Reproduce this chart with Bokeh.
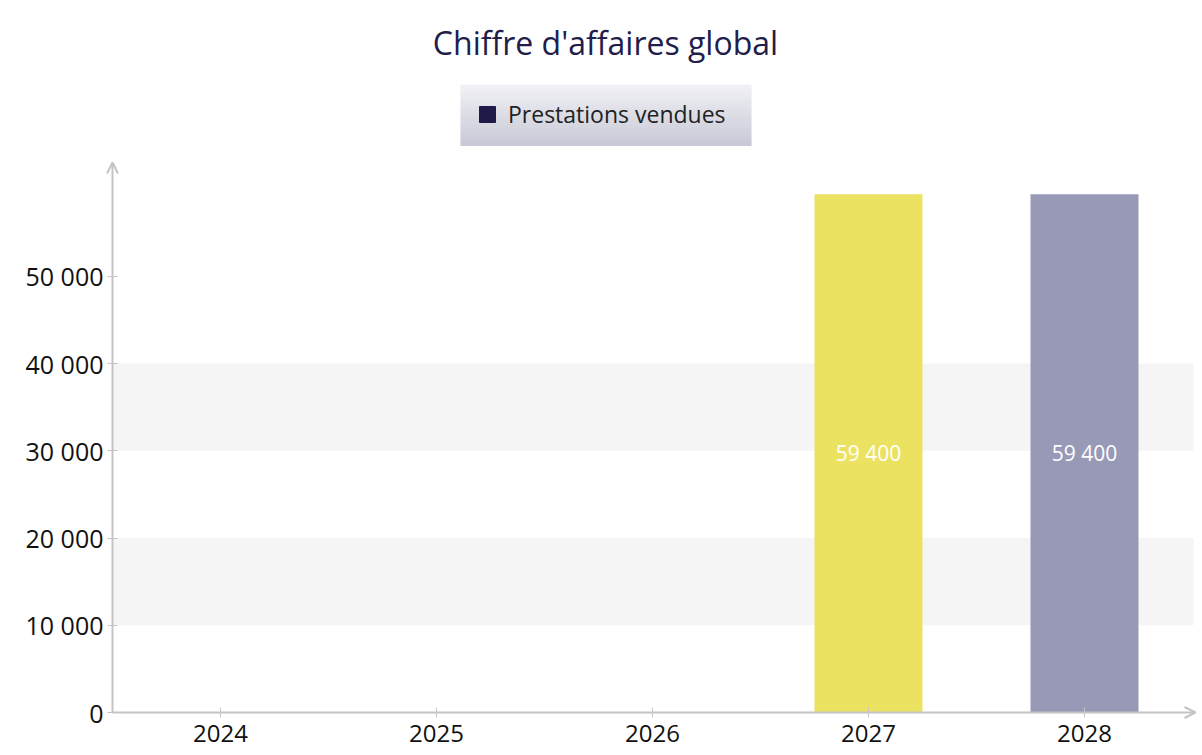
from bokeh.plotting import figure
from bokeh.models import (Range1d, FixedTicker, BoxAnnotation, Legend, LegendItem,
                          Arrow, OpenHead, ColumnDataSource, Label)
from bokeh.core.properties import value
from bokeh.embed import file_html
from bokeh.resources import INLINE

title_text = "Chiffre d'affaires global"
series_name = "Prestations vendues"
years = ["2024", "2025", "2026", "2027", "2028"]
values = [0, 0, 0, 59400, 59400]
bar_colors = ["#ECE262", "#ECE262", "#ECE262", "#ECE262", "#9899B6"]
y_ticks = [0, 10000, 20000, 30000, 40000, 50000]
y_tick_labels = ["0", "10 000", "20 000", "30 000", "40 000", "50 000"]
band_starts = [10000, 30000]
band_size = 10000

FONT = "Open Sans"
AXIS_COLOR = "#c4c4c4"
W, H = 1200, 755

# pixel layout of the plotting area (canvas pixels, top-left origin)
X0_PX = 112          # x = 0.5 (left edge of first category)
CAT_PX = 216         # width of one category
Y0_PX = 712          # y = 0
PX_PER_UNIT_Y = 87.25 / 10000

x_start = 0.5 - X0_PX / CAT_PX
x_end = x_start + W / CAT_PX
y_start = -(H - Y0_PX) / PX_PER_UNIT_Y
y_end = Y0_PX / PX_PER_UNIT_Y


def px_x(px):
    return x_start + px / CAT_PX


def px_y(py):
    return (Y0_PX - py) / PX_PER_UNIT_Y


xpos = list(range(1, len(years) + 1))
X_TIP = px_x(1195)
Y_TIP = px_y(162)

p = figure(width=W, height=H, output_backend="svg", toolbar_location=None,
           x_range=Range1d(x_start, x_end), y_range=Range1d(y_start, y_end),
           min_border=0)
p.outline_line_color = None
p.background_fill_color = "white"
p.border_fill_color = "white"
p.xgrid.visible = False
p.ygrid.visible = False

# title
p.add_layout(Label(x=px_x(605), y=px_y(42), text=title_text,
                   text_align="center", text_baseline="alphabetic", text_font=FONT,
                   text_font_size="32px", text_color="#221d4b"))

# alternating bands
for b in band_starts:
    p.add_layout(BoxAnnotation(bottom=b, top=b + band_size, left=0.5, right=px_x(1193),
                               fill_color="#f5f5f5", fill_alpha=1, line_color=None,
                               level="underlay"))

src = ColumnDataSource(dict(x=xpos, top=values, color=bar_colors,
                            mid=[v / 2 for v in values],
                            label=[f"{v:,}".replace(",", " ") if v else "" for v in values]))
p.vbar(x="x", top="top", width=0.5, bottom=0, fill_color="color", line_color=None, source=src)
p.text(x="x", y="mid", text="label", source=src, text_align="center", text_baseline="middle",
       text_color="white", text_font=value(FONT), text_font_size="21px")

# legend box background (vertical gradient)
LEG_L, LEG_R, LEG_T, LEG_B = 460, 751, 84, 145
n_strips = 30
c_top = (0xF1, 0xF1, 0xF5)
c_bot = (0xC8, 0xC8, 0xD7)
for i in range(n_strips):
    t = i / (n_strips - 1)
    col = "#%02x%02x%02x" % tuple(round(a + (b - a) * t) for a, b in zip(c_top, c_bot))
    top_px = LEG_T + (LEG_B - LEG_T) * i / n_strips
    bot_px = LEG_T + (LEG_B - LEG_T) * (i + 1) / n_strips
    p.add_layout(BoxAnnotation(left=px_x(LEG_L), right=px_x(LEG_R), top=px_y(top_px),
                               bottom=px_y(bot_px + 0.5), fill_color=col, fill_alpha=1,
                               line_color=None, level="annotation"))

nan = float("nan")
dummy = p.quad(left=[nan], right=[nan], top=[nan], bottom=[nan],
               fill_color="#1f1a47", line_color="#1f1a47")
legend = Legend(items=[LegendItem(label=series_name, renderers=[dummy])],
                location=(LEG_L + 17, H - LEG_B + 15), orientation="horizontal",
                glyph_width=20, glyph_height=20, label_standoff=11, padding=19,
                label_text_font=FONT, label_text_font_size="23px", label_text_color="#222222",
                background_fill_alpha=0, border_line_color=None, margin=0,
                label_height=20)
p.add_layout(legend, "center")

for ax in (p.xaxis[0], p.yaxis[0]):
    ax.axis_line_color = None
    ax.major_tick_line_color = AXIS_COLOR
    ax.major_tick_line_width = 1
    ax.major_tick_in = 5
    ax.major_tick_out = 5
    ax.minor_tick_line_color = None
    ax.major_label_text_font = FONT
    ax.major_label_text_font_size = "25px"
    ax.major_label_text_color = "#111111"

p.xaxis.major_label_text_font_size = "24px"
p.xaxis.fixed_location = 0
p.yaxis.fixed_location = 0.5
p.xaxis.ticker = FixedTicker(ticks=xpos)
p.xaxis.major_label_overrides = {x: y for x, y in zip(xpos, years)}
p.yaxis.ticker = FixedTicker(ticks=y_ticks)
p.yaxis.major_label_overrides = {t: l for t, l in zip(y_ticks, y_tick_labels)}
p.xaxis.major_label_standoff = 7
p.yaxis.major_label_standoff = 4

# axis lines with arrow heads
p.add_layout(Arrow(end=OpenHead(size=11, line_color=AXIS_COLOR, line_width=2),
                   x_start=0.5, y_start=0, x_end=0.5, y_end=Y_TIP,
                   line_color=AXIS_COLOR, line_width=2, level="overlay"))
p.add_layout(Arrow(end=OpenHead(size=11, line_color=AXIS_COLOR, line_width=2),
                   x_start=0.5, y_start=0, x_end=X_TIP, y_end=0,
                   line_color=AXIS_COLOR, line_width=2, level="overlay"))

open("out.html", "w").write(file_html(p, INLINE))
